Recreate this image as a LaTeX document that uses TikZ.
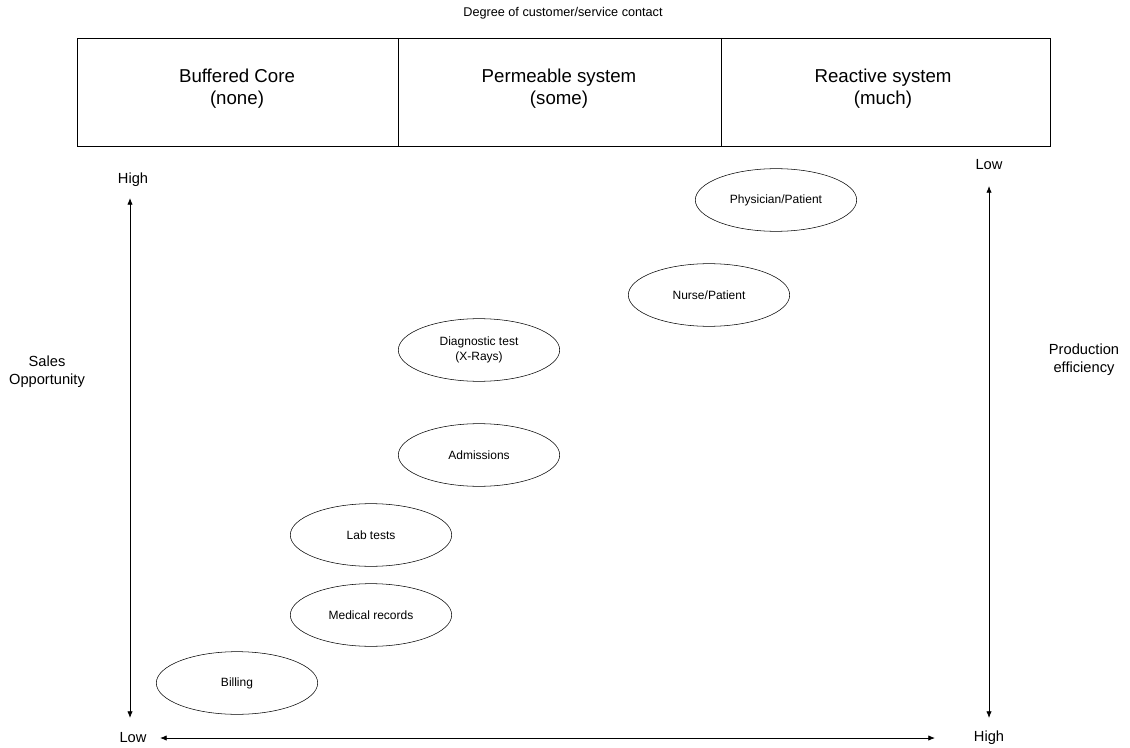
\documentclass[tikz,border=0pt]{standalone}
\usepackage{fontspec}
\setmainfont{Liberation Sans}
\usetikzlibrary{shapes.geometric,arrows.meta}
\tikzset{
  bubble/.style={draw,ellipse,minimum width=121pt,minimum height=47pt,inner sep=0pt,align=center,font=\fontsize{9}{11}\selectfont},
  axislab/.style={font=\fontsize{11}{13.5}\selectfont,align=center},
  axisarrow/.style={{Latex[length=5pt,width=4pt]}-{Latex[length=5pt,width=4pt]},semithick}
}
\begin{document}
\begin{tikzpicture}[x=0.75pt,y=-0.75pt]
\useasboundingbox (0,0) rectangle (1130,748);
% heading and contact boxes
\node[font=\fontsize{9.5}{11}\selectfont] (title) at (563,13) {Degree of customer/service contact};
\draw[semithick] (77,38) rectangle (1050,146);
\draw[semithick] (398,38) -- (398,146) (721,38) -- (721,146);
\foreach \nm/\x/\a/\b in {buff/237/Buffered Core/(none),perm/559/Permeable system/(some),reac/883/Reactive system/(much)}
  \node[font=\fontsize{14}{16.5}\selectfont,align=center] (\nm) at (\x,89) {\a\\\b};
% axes
\node[axislab] (hi1) at (133,180) {High};
\node[axislab] (lo1) at (133,738) {Low};
\node[axislab] (lo2) at (989,165) {Low};
\node[axislab] (hi2) at (989,738) {High};
\node[axislab] (sales) at (47,372) {Sales\\Opportunity};
\node[axislab] (prod) at (1084,360) {Production\\efficiency};
\coordinate (l1) at (130,198);
\coordinate (l2) at (130,718);
\coordinate (r1) at (989,186);
\coordinate (r2) at (989,718);
\coordinate (b1) at (160,738);
\coordinate (b2) at (935,738);
\draw[axisarrow] (l1) -- (l2);
\draw[axisarrow] (r1) -- (r2);
\draw[axisarrow] (b1) -- (b2);
% activities
\node[bubble] (phys) at (776,200) {Physician/Patient};
\node[bubble] (nurse) at (709,295) {Nurse/Patient};
\node[bubble] (diag) at (479,350) {Diagnostic test\\(X-Rays)};
\node[bubble] (adm) at (479,455) {Admissions};
\node[bubble] (lab) at (371,535) {Lab tests};
\node[bubble] (med) at (371,615) {Medical records};
\node[bubble] (bill) at (237,683) {Billing};
\end{tikzpicture}
\end{document}
